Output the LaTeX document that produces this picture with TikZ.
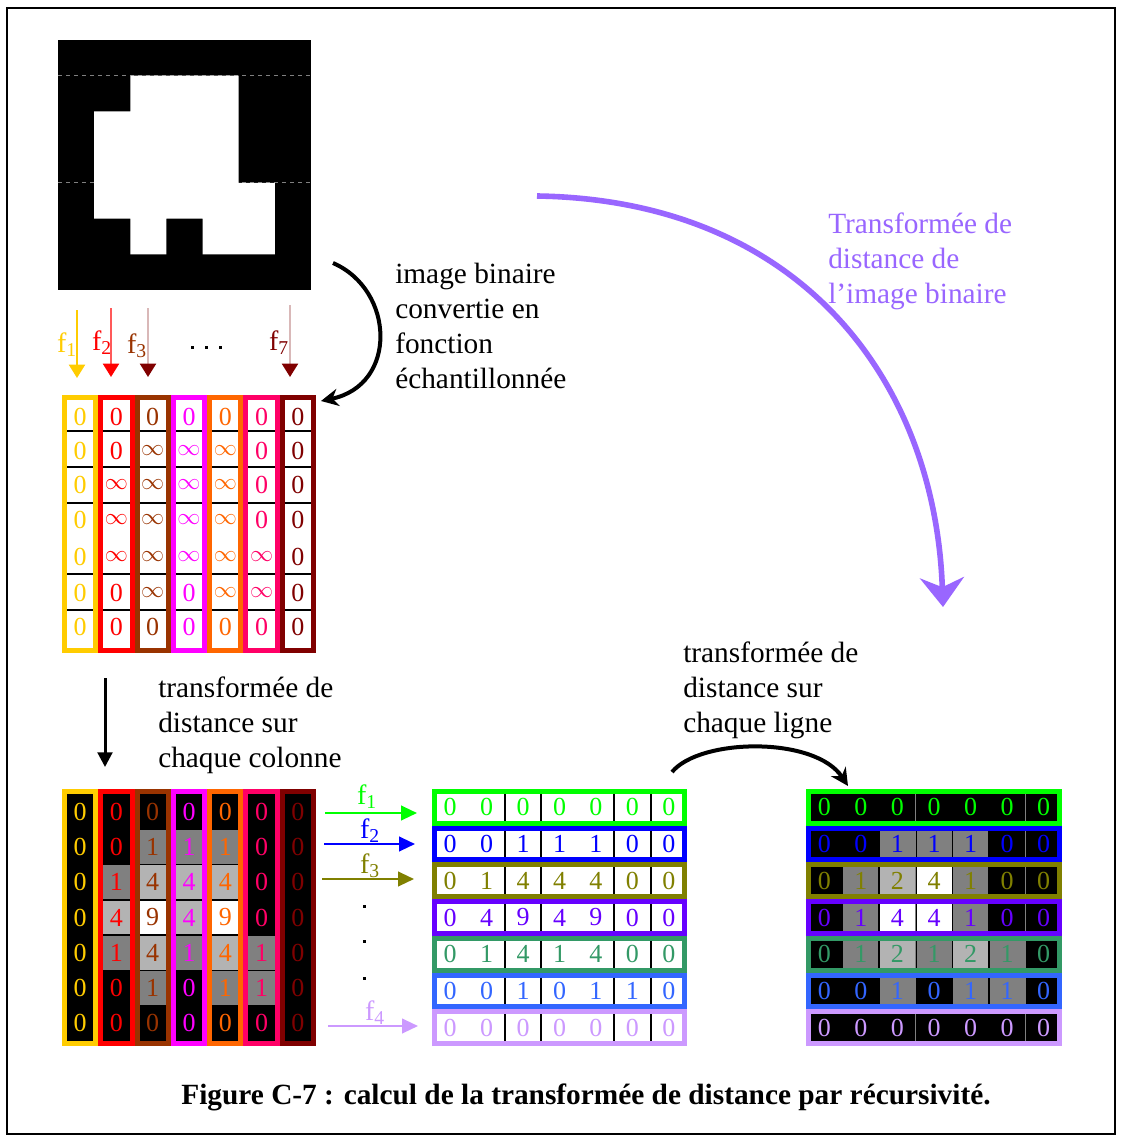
\documentclass[tikz,border=0pt]{standalone}
\usepackage{fontspec}
\setmainfont{Liberation Serif}
\usetikzlibrary{arrows.meta}
\definecolor{cA}{HTML}{FFCC00}
\definecolor{cB}{HTML}{FF0000}
\definecolor{cC}{HTML}{993300}
\definecolor{cD}{HTML}{FF00FF}
\definecolor{cE}{HTML}{FF6600}
\definecolor{cF}{HTML}{FF0066}
\definecolor{cG}{HTML}{800000}
\definecolor{rA}{HTML}{00FF00}
\definecolor{rB}{HTML}{0000FF}
\definecolor{rC}{HTML}{808000}
\definecolor{rD}{HTML}{6600FF}
\definecolor{rE}{HTML}{339966}
\definecolor{rF}{HTML}{3366FF}
\definecolor{rG}{HTML}{CC99FF}
\definecolor{violetT}{HTML}{9966FF}
\definecolor{shA1}{HTML}{808080}
\definecolor{shA4}{HTML}{B3B3B3}
\definecolor{shA9}{HTML}{FFFFFF}
\definecolor{shB1}{HTML}{808080}
\definecolor{shB2}{HTML}{B3B3B3}
\definecolor{shB4}{HTML}{FFFFFF}
\definecolor{shaftlight}{HTML}{D9B8B8}
\newcommand\infsym{{\fontsize{17}{17}\selectfont$\infty$}}
\tikzset{
  lbl/.style={font=\fontsize{22}{26.25}\selectfont, align=left, anchor=north west, inner sep=0pt},
  digit/.style={font=\fontsize{19.5}{19.5}\selectfont, inner sep=0pt},
  fl/.style={font=\fontsize{21}{21}\selectfont, inner sep=0pt},
  band/.style={line width=3.75pt},
  bigarrow/.style={line width=3pt, -{Stealth[width=13pt,length=13pt]}},
  farrow/.style={line width=1.6pt, -{Triangle[width=12pt,length=10pt]}},
  harrow/.style={line width=1.6pt, -{Triangle[width=11pt,length=12pt]}},
}
\begin{document}
\begin{tikzpicture}[x=0.75pt,y=-0.75pt]
\useasboundingbox (0,0) rectangle (1122,1138);
\fill[white] (0,0) rectangle (1122,1138);
\draw[line width=1.2pt] (7,8) rectangle (1115,1134);

% binary image
\node[fill=black, inner sep=0pt, minimum width=189.75pt, minimum height=187.5pt, anchor=north west] (bin) at (58,40) {};
\draw[gray, dashed, line width=0.75pt] (58,75.71) -- (311,75.71);
\draw[gray, dashed, line width=0.75pt] (58,182.86) -- (311,182.86);
\fill[white] (130.29,75.71) -- (238.71,75.71) -- (238.71,182.86) -- (274.86,182.86) -- (274.86,254.29) -- (202.57,254.29) -- (202.57,218.57) -- (166.43,218.57) -- (166.43,254.29) -- (130.29,254.29) -- (130.29,218.57) -- (94.14,218.57) -- (94.14,111.43) -- (130.29,111.43) -- cycle;

% column arrows
\coordinate (fa1s) at (77,310); \coordinate (fa1e) at (77,378);
\coordinate (fa2s) at (111,308); \coordinate (fa2e) at (111,377);
\coordinate (fa3s) at (148,308); \coordinate (fa3e) at (148,377);
\coordinate (fa7s) at (290,305); \coordinate (fa7e) at (290,377);
\draw[farrow, cA] (fa1s) -- (fa1e);
\draw[farrow, red!65!white, -{Triangle[width=12pt,length=10pt,color=cB]}] (fa2s) -- (fa2e);
\draw[farrow, shaftlight, -{Triangle[width=12pt,length=10pt,color=cG]}] (fa3s) -- (fa3e);
\draw[farrow, shaftlight, -{Triangle[width=12pt,length=10pt,color=cG]}] (fa7s) -- (fa7e);
\node[fl, text=cA] (lf1) at (67,345) {f\textsubscript{1}};
\node[fl, text=cB] (lf2) at (102,343) {f\textsubscript{2}};
\node[fl, text=cC] (lf3) at (137,346) {f\textsubscript{3}};
\node[fl, text=cG] (lf7) at (279,343) {f\textsubscript{7}};
\foreach \x in {192,206,220} \fill (\x-1.5,345.5) rectangle (\x+1.5,348.5);

% sampled function grid
\foreach \c/\col/\vals in {0/cA/{0,0,0,0,0,0,0},1/cB/{0,0,8,8,8,0,0},2/cC/{0,8,8,8,8,8,0},3/cD/{0,8,8,8,8,0,0},4/cE/{0,8,8,8,8,8,0},5/cF/{0,0,0,0,8,8,0},6/cG/{0,0,0,0,0,0,0}}{
  \pgfmathsetmacro\xl{62+\c*36.286}
  \draw[band,draw=\col,fill=white] (\xl+2.5,397.5) rectangle (\xl+33.786,650.5);
  \foreach \yy in {431,467,503,574,610}
    \draw[line width=1.2pt] (\xl+5,\yy) -- (\xl+31.286,\yy);
  \foreach \v [count=\r from 0] in \vals {
    \pgfmathsetmacro\yc{{417,451,485,520,557,593,627}[\r]}
    \node[digit,text=\col] (m-\r-\c) at (\xl+18.14,\yc) {\ifnum\v=8 \infsym\else\v\fi};
  }
}

% column distance transform grid
\foreach \c/\col/\vals in {0/cA/{0,0,0,0,0,0,0},1/cB/{0,0,1,4,1,0,0},2/cC/{0,1,4,9,4,1,0},3/cD/{0,1,4,4,1,0,0},4/cE/{0,1,4,9,4,1,0},5/cF/{0,0,0,0,1,1,0},6/cG/{0,0,0,0,0,0,0}}{
  \pgfmathsetmacro\xl{62+\c*36.286}
  \draw[band,draw=\col,fill=black] (\xl+2.5,791.5) rectangle (\xl+33.786,1043.5);
  \foreach \v [count=\r from 0] in \vals {
    \pgfmathsetmacro\yt{794+\r*35.286}
    \ifnum\v>0 \fill[shA\v] (\xl+5,\yt+0.8) rectangle (\xl+31.286,\yt+34.5); \fi
    \node[digit,text=\col] (b-\r-\c) at (\xl+18.14,\yt+17.64) {\v};
  }
}

% row functions grid
\foreach \r/\col/\vals in {0/rA/{0,0,0,0,0,0,0},1/rB/{0,0,1,1,1,0,0},2/rC/{0,1,4,4,4,0,0},3/rD/{0,4,9,4,9,0,0},4/rE/{0,1,4,1,4,0,0},5/rF/{0,0,1,0,1,1,0},6/rG/{0,0,0,0,0,0,0}}{
  \pgfmathsetmacro\yt{789+\r*36.714}
  \draw[band,draw=\col,fill=white] (434.5,\yt+2.5) rectangle (684.5,\yt+34.214);
  \foreach \k in {2,3,5,6}
    \draw[line width=1.5pt] (432+\k*36.43,\yt+5) -- (432+\k*36.43,\yt+31.714);
  \foreach \v [count=\c from 0] in \vals {
    \node[digit,text=\col] (h-\r-\c) at (432+\c*36.43+18.21,\yt+18.36) {\v};
  }
}

% final grid
\foreach \r/\col/\vals in {0/rA/{0,0,0,0,0,0,0},1/rB/{0,0,1,1,1,0,0},2/rC/{0,1,2,4,1,0,0},3/rD/{0,1,4,4,1,0,0},4/rE/{0,1,2,1,2,1,0},5/rF/{0,0,1,0,1,1,0},6/rG/{0,0,0,0,0,0,0}}{
  \pgfmathsetmacro\yt{789+\r*36.714}
  \draw[band,draw=\col,fill=black] (808.5,\yt+2.5) rectangle (1059.5,\yt+34.214);
  \foreach \v [count=\c from 0] in \vals {
    \pgfmathsetmacro\xc{806+\c*36.57}
    \ifnum\v>0 \fill[shB\v] (\xc+0.8,\yt+5) rectangle (\xc+35.8,\yt+31.714); \fi
  }
  \foreach \k in {3,6}
    \draw[gray,line width=0.75pt] (806+\k*36.57,\yt+5) -- (806+\k*36.57,\yt+31.714);
  \foreach \v [count=\c from 0] in \vals {
    \node[digit,text=\col] (r-\r-\c) at (806+\c*36.57+18.29,\yt+18.36) {\v};
  }
}

% row arrows
\coordinate (ra1s) at (325,813); \coordinate (ra1e) at (417,813);
\coordinate (ra2s) at (324,844); \coordinate (ra2e) at (415,844);
\coordinate (ra3s) at (322,879); \coordinate (ra3e) at (414,879);
\coordinate (ra4s) at (328,1026); \coordinate (ra4e) at (418,1026);
\draw[harrow, rA] (ra1s) -- (ra1e);
\draw[harrow, rB] (ra2s) -- (ra2e);
\draw[harrow, rC] (ra3s) -- (ra3e);
\draw[harrow, rG] (ra4s) -- (ra4e);
\node[fl, text=rA] (lr1) at (367,797) {f\textsubscript{1}};
\node[fl, text=rB] (lr2) at (370,831) {f\textsubscript{2}};
\node[fl, text=rC] (lr3) at (370,866) {f\textsubscript{3}};
\node[fl, text=rG] (lr4) at (375,1013) {f\textsubscript{4}};
\foreach \y in {906,941,978} \fill (362.5,\y-1.5) rectangle (365.5,\y+1.5);

% connectors
\coordinate (ca1) at (333,263); \coordinate (ca2) at (321,401);
\draw[bigarrow] (ca1) .. controls (395,290) and (398,385) .. (ca2);
\coordinate (da1) at (105,678); \coordinate (da2) at (105,767);
\draw[line width=2.25pt, -{Triangle[width=11pt,length=11pt]}] (da1) -- (da2);
\coordinate (la1) at (672,772); \coordinate (la2) at (848,786);
\draw[bigarrow] (la1) .. controls (700,738) and (815,736) .. (la2);
\coordinate (pa1) at (537,196); \coordinate (pa2) at (943,607);
\draw[violetT, line width=4.2pt, -{Stealth[width=33pt,length=22pt]}] (pa1) .. controls (800,200) and (935,380) .. (pa2);

% labels
\node[lbl] (t1) at (395,263) {image binaire\\convertie en\\fonction\\échantillonnée};
\node[lbl] (t2) at (158,677) {transformée de\\distance sur\\chaque colonne};
\node[lbl] (t3) at (683,642) {transformée de\\distance sur\\chaque ligne};
\node[lbl, text=violetT] (t4) at (828,213) {Transformée de\\distance de\\l'image binaire};
\node[font=\bfseries\fontsize{22}{26}\selectfont, inner sep=0pt] (cap) at (586,1097) {Figure C-7 : calcul de la transformée de distance par récursivité.};
\end{tikzpicture}
\end{document}
